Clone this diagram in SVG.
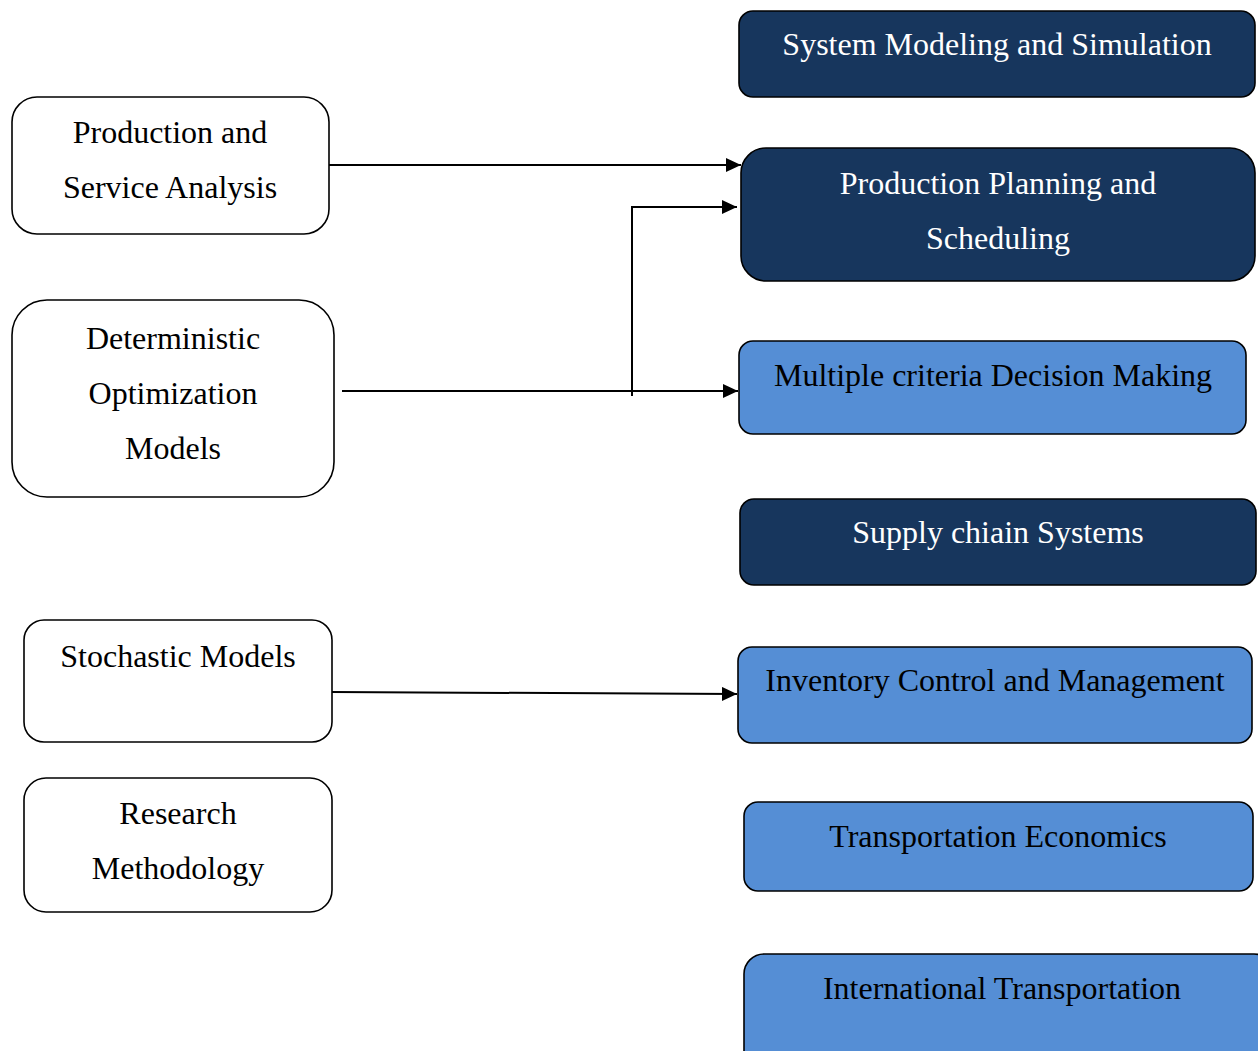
<svg xmlns="http://www.w3.org/2000/svg" width="1258" height="1051" viewBox="0 0 1258 1051">
<style>
.w{fill:#ffffff;stroke:#000;stroke-width:1.6}
.d{fill:#17365d;stroke:#000;stroke-width:1.6}
.l{fill:#558ed5;stroke:#000;stroke-width:1.6}
text{font-family:"Liberation Serif","Times New Roman",serif;font-size:32px;text-anchor:middle}
.tw{fill:#ffffff}
.tb{fill:#000000}
.c{stroke:#000;stroke-width:2;fill:none}
</style>
<defs>
<marker id="ah" markerWidth="15" markerHeight="14" refX="15" refY="7" orient="auto" markerUnits="userSpaceOnUse">
<path d="M0,0 L15,7 L0,14 Z" fill="#000"/>
</marker>
</defs>
<g id="n-psa"><rect class="w" x="12" y="97" width="317" height="137" rx="25"/><text class="tb" x="170" y="143">Production and</text><text class="tb" x="170" y="198">Service Analysis</text></g>
<g id="n-dom"><rect class="w" x="12" y="300" width="322" height="197" rx="35"/><text class="tb" x="173" y="349">Deterministic</text><text class="tb" x="173" y="404">Optimization</text><text class="tb" x="173" y="459">Models</text></g>
<g id="n-sm"><rect class="w" x="24" y="620" width="308" height="122" rx="20"/><text class="tb" x="178" y="667">Stochastic Models</text></g>
<g id="n-rm"><rect class="w" x="24" y="778" width="308" height="134" rx="22"/><text class="tb" x="178" y="824">Research</text><text class="tb" x="178" y="879">Methodology</text></g>
<g id="n-sms"><rect class="d" x="739" y="11" width="516" height="86" rx="14"/><text class="tw" x="997" y="55">System Modeling and Simulation</text></g>
<g id="n-pps"><rect class="d" x="741" y="148" width="514" height="133" rx="25"/><text class="tw" x="998" y="194">Production Planning and</text><text class="tw" x="998" y="249">Scheduling</text></g>
<g id="n-mcdm"><rect class="l" x="739" y="341" width="507" height="93" rx="14"/><text class="tb" x="993" y="386">Multiple criteria Decision Making</text></g>
<g id="n-scs"><rect class="d" x="740" y="499" width="516" height="86" rx="14"/><text class="tw" x="998" y="543">Supply chiain Systems</text></g>
<g id="n-icm"><rect class="l" x="738" y="647" width="514" height="96" rx="14"/><text class="tb" x="995" y="691">Inventory Control and Management</text></g>
<g id="n-te"><rect class="l" x="744" y="802" width="509" height="89" rx="14"/><text class="tb" x="998" y="847">Transportation Economics</text></g>
<g id="n-it"><rect class="l" x="744" y="954" width="530" height="120" rx="20"/><text class="tb" x="1002" y="999">International Transportation</text></g>
<g id="connectors">
<line class="c" x1="329" y1="165" x2="741" y2="165" marker-end="url(#ah)"/>
<line class="c" x1="342" y1="391" x2="738" y2="391" marker-end="url(#ah)"/>
<polyline class="c" points="632,396 632,207 737,207" marker-end="url(#ah)"/>
<line class="c" x1="332" y1="692" x2="737" y2="694" marker-end="url(#ah)"/>
</g>
</svg>
